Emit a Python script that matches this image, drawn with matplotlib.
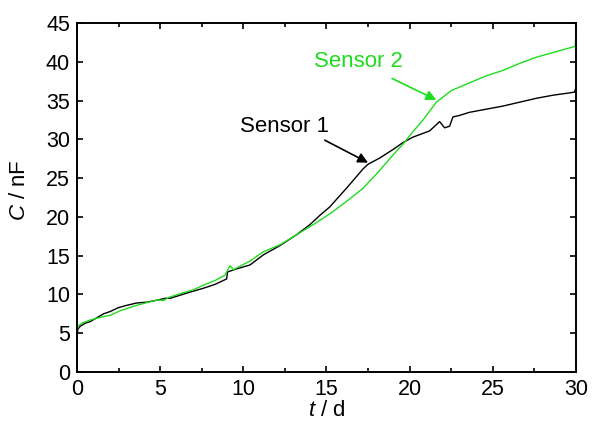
import matplotlib
matplotlib.use("Agg")
import matplotlib.pyplot as plt
from matplotlib.ticker import MultipleLocator

plt.rcParams['font.family'] = ['Liberation Sans', 'DejaVu Sans']
plt.rcParams['mathtext.fontset'] = 'custom'
plt.rcParams['mathtext.rm'] = 'Liberation Sans'
plt.rcParams['mathtext.it'] = 'Liberation Sans:italic'

# values (t in days, C in nF)
t1 = [0, 0.05, 0.2, 0.5, 0.8, 1.2, 1.6, 2.0, 2.5, 3.0, 3.6, 4.2, 4.9, 5.3, 5.6,
      6.2, 6.8, 7.6, 8.3, 8.9, 9.0, 9.05, 9.6, 10.4, 11.2, 12.2, 13.2, 14.0,
      14.6, 15.2, 16.2, 17.2, 17.5, 18.2, 19.0, 19.6, 20.2, 21.2, 21.8, 22.1,
      22.4, 22.6, 23.0, 23.6, 24.6, 25.6, 26.6, 27.6, 28.6, 29.6, 29.9, 30.0]
c1 = [4.4, 5.5, 5.9, 6.3, 6.5, 7.0, 7.5, 7.8, 8.3, 8.6, 8.9, 9.0, 9.3, 9.5, 9.5,
      9.9, 10.3, 10.8, 11.3, 11.9, 12.0, 12.9, 13.3, 13.8, 15.1, 16.3, 17.7, 19.0,
      20.2, 21.3, 23.7, 26.2, 26.8, 27.6, 28.7, 29.6, 30.3, 31.1, 32.3, 31.5,
      31.7, 32.9, 33.1, 33.5, 33.9, 34.3, 34.8, 35.3, 35.7, 36.0, 36.1, 36.7]

t2 = [0, 0.05, 0.3, 0.8, 1.5, 2.0, 2.6, 3.6, 4.3, 4.9, 5.2, 5.5, 6.2, 7.0, 7.6,
      8.3, 8.9, 9.2, 9.4, 10.4, 11.2, 12.2, 13.2, 14.2, 15.2, 16.2, 17.2, 18.2,
      19.0, 19.6, 20.2, 20.8, 21.6, 22.5, 23.6, 24.6, 25.6, 26.6, 27.6, 28.6,
      29.6, 29.95, 30.0]
c2 = [4.8, 5.9, 6.3, 6.7, 7.1, 7.3, 7.9, 8.6, 9.0, 9.3, 9.2, 9.6, 10.1, 10.6, 11.2,
      11.8, 12.5, 13.7, 13.2, 14.3, 15.5, 16.4, 17.7, 19.0, 20.4, 22.0, 23.7, 26.0,
      28.0, 29.4, 31.0, 32.5, 34.8, 36.3, 37.3, 38.2, 38.9, 39.8, 40.6, 41.2,
      41.8, 42.0, 43.7]

green = '#1edc1e'

fig = plt.figure(figsize=(5.92, 4.29), dpi=100)
ax = fig.add_axes([0.130, 0.133, 0.843, 0.813])

ax.plot(t1, c1, color='black', lw=1.0)
ax.plot(t2, c2, color=green, lw=1.0)

ax.set_xlim(0, 30)
ax.set_ylim(0, 45)
ax.xaxis.set_major_locator(MultipleLocator(5))
ax.xaxis.set_minor_locator(MultipleLocator(2.5))
ax.yaxis.set_major_locator(MultipleLocator(5))
ax.tick_params(which='both', direction='in', top=True, right=True, labelsize=15.5, width=1.2)
ax.tick_params(which='major', length=4, pad=5)
ax.tick_params(which='minor', length=3)
for s in ax.spines.values():
    s.set_linewidth(1.4)

ax.set_xlabel(r'$\mathit{t}$ / d', fontsize=16, labelpad=0)
ax.set_ylabel(r'$\mathit{C}$ / nF', fontsize=16)
ax.yaxis.set_label_coords(-0.095, 0.52)

arrow = dict(arrowstyle='-|>', lw=1.2, shrinkA=0, shrinkB=0, mutation_scale=15)
ax.text(9.8, 31.65, 'Sensor 1', fontsize=16, va='center', ha='left', color='black')
ax.annotate('', xy=(17.5, 27.0), xytext=(14.9, 29.9),
            arrowprops=dict(arrow, color='black'))
ax.text(14.25, 40.0, 'Sensor 2', fontsize=16, va='center', ha='left', color=green)
ax.annotate('', xy=(21.6, 35.1), xytext=(18.94, 37.87),
            arrowprops=dict(arrow, color=green))

fig.savefig('out.png', dpi=100)
